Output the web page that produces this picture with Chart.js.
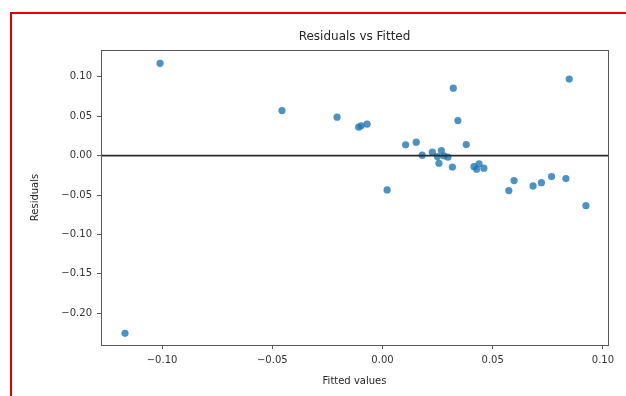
<!DOCTYPE html>
<html>
<head>
<meta charset="utf-8">
<script src="https://cdn.jsdelivr.net/npm/chart.js@4.4.1/dist/chart.umd.min.js"></script>
<style>
  html, body { margin:0; padding:0; background:#fff; }
  #wrap { position:relative; width:626px; height:396px; overflow:hidden; }
  #frame { position:absolute; left:10px; top:12px; width:700px; height:500px;
           border-top:2px solid #e00000; border-left:2px solid #e00000; pointer-events:none; }
</style>
</head>
<body>
<div id="wrap">
  <canvas id="c" width="626" height="396"></canvas>
  <div id="frame"></div>
</div>
<script>
// fitted values (x) and residuals (y)
const fitted = [
  -0.1009, -0.0456, -0.1168, -0.0206, -0.0108, -0.0097, -0.0070,
   0.0321,  0.0342,  0.0847,  0.0105,  0.0153,  0.0380,  0.0180,
   0.0226,  0.0267,  0.0249,  0.0279,  0.0297,  0.0256,  0.0317,
   0.0021,  0.0415,  0.0438,  0.0460,  0.0427,  0.0597,  0.0573,
   0.0683,  0.0721,  0.0767,  0.0832,  0.0923
];
const residuals = [
   0.1170,  0.0571, -0.2254,  0.0487,  0.0360,  0.0377,  0.0398,
   0.0855,  0.0444,  0.0970,  0.0136,  0.0170,  0.0140,  0.0005,
   0.0043,  0.0063, -0.0013, -0.0004, -0.0020, -0.0097, -0.0145,
  -0.0435, -0.0140, -0.0105, -0.0160, -0.0173, -0.0317, -0.0444,
  -0.0385, -0.0343, -0.0266, -0.0292, -0.0635
];
const xTicks = [-0.10, -0.05, 0.00, 0.05, 0.10];
const yTicks = [0.10, 0.05, 0.00, -0.05, -0.10, -0.15, -0.20];
const xRange = [-0.1277, 0.1023];
const yRange = [-0.2402, 0.1339];

const fmt = v => (v < -1e-9 ? '\u2212' : '') + Math.abs(v).toFixed(2);
const FONT = "'DejaVu Sans', sans-serif";

const labels = {
  id: 'labels',
  afterDraw(chart) {
    const ctx = chart.ctx, a = chart.chartArea;
    ctx.save();
    // axes box
    ctx.strokeStyle = '#5a5a5a';
    ctx.lineWidth = 1;
    ctx.strokeRect(Math.round(a.left) + 0.5, Math.round(a.top) + 0.5,
                   Math.round(a.right - a.left), Math.round(a.bottom - a.top));
    ctx.fillStyle = '#262626';
    ctx.textAlign = 'center';
    ctx.textBaseline = 'middle';
    ctx.font = '12px ' + FONT;
    ctx.fillText('Residuals vs Fitted', (a.left + a.right) / 2, 37);
    ctx.font = '10px ' + FONT;
    ctx.fillText('Fitted values', (a.left + a.right) / 2, 381);
    ctx.translate(35, (a.top + a.bottom) / 2);
    ctx.rotate(-Math.PI / 2);
    ctx.fillText('Residuals', 0, 0);
    ctx.restore();
  }
};

new Chart(document.getElementById('c'), {
  data: {
    datasets: [
      {
        type: 'line',
        data: [{ x: xRange[0], y: 0 }, { x: xRange[1], y: 0 }],
        borderColor: '#2b2b2b',
        borderWidth: 1.6,
        pointRadius: 0,
        order: 0
      },
      {
        type: 'scatter',
        data: fitted.map((x, i) => ({ x: x, y: residuals[i] })),
        backgroundColor: 'rgba(31,119,180,0.8)',
        borderWidth: 0,
        pointRadius: 3.6,
        order: 1
      }
    ]
  },
  options: {
    responsive: false,
    animation: false,
    layout: { padding: { left: 0, top: 50, right: 18, bottom: 0 } },
    plugins: { legend: { display: false }, tooltip: { enabled: false }, title: { display: false } },
    scales: {
      x: {
        type: 'linear',
        min: xRange[0], max: xRange[1],
        afterBuildTicks: s => { s.ticks = xTicks.map(v => ({ value: v })); },
        afterFit: s => { s.height = 51; },
        grid: { drawOnChartArea: false, tickLength: 4, color: '#5a5a5a' },
        border: { display: false },
        ticks: { callback: fmt, font: { family: FONT, size: 10 }, color: '#333', padding: 5, maxRotation: 0 }
      },
      y: {
        type: 'linear',
        min: yRange[0], max: yRange[1],
        afterBuildTicks: s => { s.ticks = yTicks.map(v => ({ value: v })); },
        afterFit: s => { s.width = 101; },
        grid: { drawOnChartArea: false, tickLength: 4, color: '#5a5a5a' },
        border: { display: false },
        ticks: { callback: fmt, font: { family: FONT, size: 10 }, color: '#333', padding: 5 }
      }
    }
  },
  plugins: [labels]
});
</script>
</body>
</html>
